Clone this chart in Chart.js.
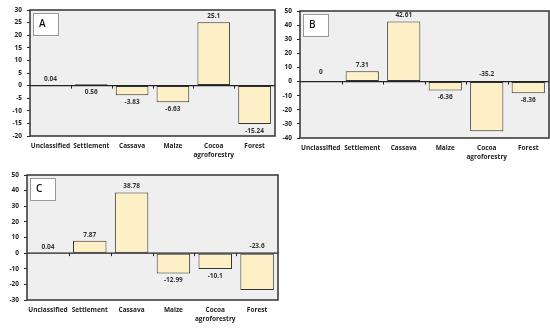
<!DOCTYPE html>
<html>
<head>
<meta charset="utf-8">
<script src="https://cdn.jsdelivr.net/npm/chart.js@4.4.0/dist/chart.umd.min.js"></script>
<style>
  html, body { margin: 0; padding: 0; background: #fff; }
  body { width: 550px; height: 329px; position: relative; overflow: hidden; }
  .panel { position: absolute; }
</style>
</head>
<body>
<div class="panel" style="left:0;top:0;width:280px;height:168px"><canvas id="chartA"></canvas></div>
<div class="panel" style="left:278px;top:0;width:272px;height:168px"><canvas id="chartB"></canvas></div>
<div class="panel" style="left:0;top:165px;width:282px;height:164px"><canvas id="chartC"></canvas></div>
<script>
// land cover classes
const categories = ['Unclassified', 'Settlement', 'Cassava', 'Maize', ['Cocoa', 'agroforestry'], 'Forest'];

// change values (%) per panel
const valuesA = [0.04, 0.56, -3.83, -6.63, 25.1, -15.24];
const valuesB = [0, 7.31, 42.61, -6.36, -35.2, -8.36];
const valuesC = [0.04, 7.87, 38.78, -12.99, -10.1, -23.6];

// y tick ranges
const ticksA = { min: -20, max: 30, step: 5 };
const ticksB = { min: -40, max: 50, step: 10 };
const ticksC = { min: -30, max: 50, step: 10 };

const FONT = '"Open Sans", sans-serif';
const DARK = '#222';

// frame, zero line, boundary ticks, letter box and value labels
const panelPlugin = {
  id: 'panelDeco',
  beforeDatasetsDraw(chart, args, opts) {
    const { ctx, chartArea: a } = chart;
    ctx.save();
    ctx.fillStyle = '#efefef';
    ctx.fillRect(a.left, a.top, a.right - a.left, a.bottom - a.top);
    ctx.restore();
  },
  afterDatasetsDraw(chart, args, opts) {
    const { ctx, chartArea: a, scales: { y } } = chart;
    const y0 = y.getPixelForValue(0);
    ctx.save();
    // zero line
    ctx.strokeStyle = DARK;
    ctx.lineWidth = 1.2;
    ctx.beginPath();
    ctx.moveTo(a.left, y0);
    ctx.lineTo(a.right, y0);
    ctx.stroke();
    // category boundary ticks below zero line
    const n = chart.data.labels.length;
    const w = (a.right - a.left) / n;
    ctx.lineWidth = 1;
    for (let i = 1; i < n; i++) {
      const px = Math.round(a.left + i * w) + 0.5;
      ctx.beginPath();
      ctx.moveTo(px, y0);
      ctx.lineTo(px, y0 + 3);
      ctx.stroke();
    }
    // frame
    ctx.lineWidth = 1.5;
    ctx.strokeStyle = '#333';
    ctx.strokeRect(a.left, a.top, a.right - a.left, a.bottom - a.top);
    // letter box
    ctx.fillStyle = '#fff';
    ctx.strokeStyle = '#999';
    ctx.lineWidth = 1;
    ctx.fillRect(a.left + 3.5, a.top + 3.5, 25, 22);
    ctx.strokeRect(a.left + 3.5, a.top + 3.5, 25, 22);
    ctx.fillStyle = '#111';
    ctx.font = '600 10px ' + FONT;
    ctx.textAlign = 'left';
    ctx.textBaseline = 'middle';
    ctx.fillText(opts.letter, a.left + 9, a.top + 14.5);
    // value labels
    const meta = chart.getDatasetMeta(0);
    const data = chart.data.datasets[0].data;
    ctx.font = 'bold 6.5px ' + FONT;
    ctx.fillStyle = '#333';
    ctx.textAlign = 'center';
    meta.data.forEach((bar, i) => {
      const v = data[i];
      const place = opts.placement[i];
      let ty;
      if (place === 'above0') ty = y0 - 7;
      else if (place === 'below0') ty = y0 + 7;
      else if (v > 0) ty = bar.y - 6;
      else if (v === 0) ty = bar.y - 9;
      else ty = bar.y + 7;
      ctx.fillText(String(v), bar.x, ty);
    });
    ctx.restore();
  }
};

function makeChart(id, letter, values, t, placement, geom) {
  return new Chart(document.getElementById(id), {
    type: 'bar',
    data: {
      labels: categories,
      datasets: [{
        data: values,
        backgroundColor: '#fdf0c6',
        borderColor: '#333',
        borderWidth: 1,
        borderSkipped: false,
        barPercentage: 0.8,
        categoryPercentage: 1.0
      }]
    },
    options: {
      responsive: true,
      maintainAspectRatio: false,
      animation: false,
      devicePixelRatio: 1,
      layout: { padding: { top: geom.top, right: geom.right, left: 0, bottom: 0 } },
      plugins: {
        legend: { display: false },
        tooltip: { enabled: false },
        panelDeco: { letter: letter, placement: placement }
      },
      scales: {
        x: {
          grid: { display: false, drawTicks: false },
          border: { display: false },
          ticks: {
            color: '#222',
            font: { family: FONT, size: 6.5, weight: 'bold', lineHeight: 1.3 },
            maxRotation: 0,
            autoSkip: false,
            padding: 6
          },
          afterFit: s => { s.height = geom.xh; }
        },
        y: {
          min: t.min,
          max: t.max,
          grid: { drawOnChartArea: false, tickLength: 3, color: DARK },
          border: { display: false },
          ticks: {
            stepSize: t.step,
            color: '#222',
            font: { family: FONT, size: 6.5, weight: 'bold' },
            padding: 5
          },
          afterFit: s => { s.width = geom.yw; }
        }
      }
    },
    plugins: [panelPlugin]
  });
}

makeChart('chartA', 'A', valuesA, ticksA,
  ['end', 'below0', 'end', 'end', 'end', 'end'],
  { top: 10, right: 5, xh: 32, yw: 30 });
makeChart('chartB', 'B', valuesB, ticksB,
  ['end', 'end', 'end', 'end', 'above0', 'end'],
  { top: 11, right: 1, xh: 30, yw: 22 });
makeChart('chartC', 'C', valuesC, ticksC,
  ['end', 'end', 'end', 'end', 'end', 'above0'],
  { top: 10, right: 4, xh: 29, yw: 27 });
</script>
</body>
</html>
